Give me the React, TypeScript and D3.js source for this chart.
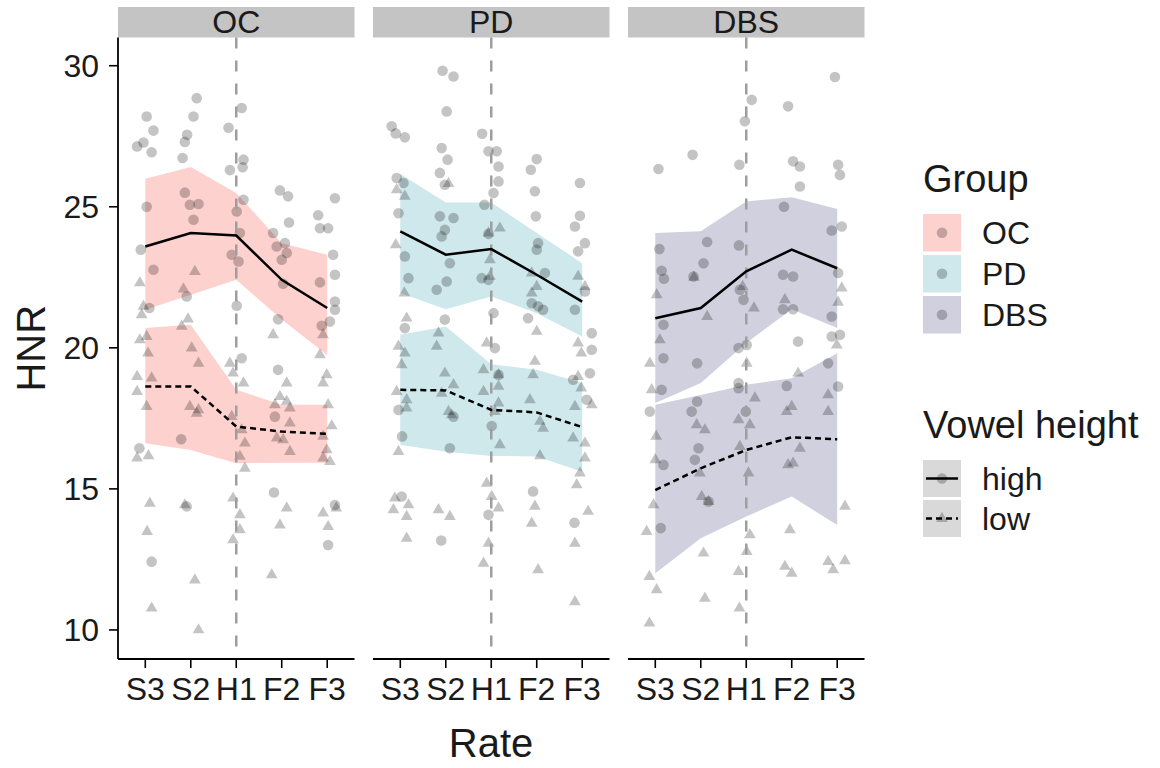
import React from "react";
import * as d3 from "d3";

// ---------- data ----------
const rates = ["S3", "S2", "H1", "F2", "F3"];
const groups = ["OC", "PD", "DBS"];
const groupFills = ["#FCD1CE", "#CEE8EC", "#D0D0DE"];
const vowels = ["high", "low"];
const yTicks = [10, 15, 20, 25, 30];

const ocHighMean = [23.59, 24.07, 23.98, 22.41, 21.41];
const ocHighUpper = [25.99, 26.41, 25.49, 23.71, 23.3];
const ocHighLower = [21.35, 21.88, 22.41, 21.0, 19.75];
const ocLowMean = [18.63, 18.63, 17.21, 17.03, 16.95];
const ocLowUpper = [20.7, 20.82, 18.51, 17.98, 17.98];
const ocLowLower = [16.62, 16.38, 15.91, 15.93, 15.93];

const pdHighMean = [24.13, 23.3, 23.5, 22.59, 21.64];
const pdHighUpper = [26.16, 25.15, 25.15, 24.07, 23.0];
const pdHighLower = [21.94, 21.37, 21.82, 21.23, 20.4];
const pdLowMean = [18.51, 18.49, 17.8, 17.71, 17.19];
const pdLowUpper = [20.46, 20.76, 19.42, 19.22, 18.75];
const pdLowLower = [16.56, 16.32, 16.17, 16.15, 15.61];

const dbsHighMean = [21.05, 21.41, 22.71, 23.48, 22.82];
const dbsHighUpper = [24.07, 24.13, 25.19, 25.34, 24.92];
const dbsHighLower = [18.04, 18.75, 20.17, 21.37, 20.7];
const dbsLowMean = [14.96, 15.73, 16.38, 16.83, 16.76];
const dbsLowUpper = [17.98, 18.33, 18.69, 18.92, 19.81];
const dbsLowLower = [12.01, 13.25, 14.02, 14.73, 13.72];

// jittered rate position (1..5) and HNR
const ocHighPoints: [number, number][] = [
  [2.13, 28.85], [1.03, 28.2], [2.06, 28.2], [1.18, 27.7], [2.83, 27.8], [3.12, 28.5],
  [1.92, 27.55], [1.87, 27.3], [0.96, 27.28], [0.82, 27.14], [1.14, 26.93], [1.82, 26.73],
  [3.16, 26.67], [3.14, 26.4], [2.86, 26.3], [3.96, 25.58], [4.14, 25.37], [5.17, 25.3],
  [4.8, 24.7], [4.84, 24.24], [5.02, 24.24], [4.16, 24.44], [3.81, 24.07], [4.07, 23.71],
  [3.89, 23.59], [4.11, 23.36], [4.0, 23.12], [1.87, 25.5], [1.98, 25.07], [2.17, 25.1],
  [2.06, 24.54], [1.03, 25.0], [3.16, 25.25], [3.01, 24.83], [3.08, 24.07], [2.9, 23.3],
  [3.05, 23.06], [0.9, 23.48], [1.18, 22.77], [5.13, 23.3], [5.17, 22.59], [4.84, 22.32],
  [5.17, 21.64], [5.17, 21.35], [5.06, 20.93], [4.88, 20.78], [3.92, 21.01], [3.01, 21.49],
  [4.03, 22.27], [3.12, 19.63], [1.91, 21.82], [1.09, 21.41], [3.92, 19.22], [3.85, 17.56],
  [1.79, 16.76], [0.87, 16.44], [1.91, 14.38], [3.83, 14.87], [5.17, 14.43], [5.02, 13.01],
  [1.14, 12.42],
];
const ocLowPoints: [number, number][] = [
  [2.09, 22.7], [0.88, 22.3], [1.84, 22.08], [0.96, 21.47], [0.92, 21.17], [1.94, 21.02],
  [1.8, 20.76], [1.03, 20.4], [0.88, 20.28], [3.81, 20.46], [4.91, 20.46], [1.06, 19.81],
  [2.02, 19.99], [2.17, 19.45], [2.86, 19.45], [4.84, 19.75], [2.93, 19.1], [0.82, 18.98],
  [1.14, 18.93], [0.82, 18.45], [1.03, 17.92], [3.16, 18.75], [4.11, 18.75], [3.96, 18.27],
  [4.11, 18.1], [3.85, 17.98], [4.18, 17.86], [4.18, 17.33], [3.89, 16.8], [4.03, 16.74],
  [4.18, 16.32], [1.98, 17.92], [2.17, 17.8], [2.13, 17.68], [2.9, 17.56], [3.12, 17.09],
  [3.19, 16.62], [3.08, 16.15], [3.19, 15.73], [0.82, 16.09], [1.07, 16.17], [4.99, 19.04],
  [4.91, 18.75], [5.02, 17.98], [5.1, 17.23], [4.91, 16.86], [4.99, 16.38], [4.91, 16.09],
  [5.06, 15.97], [1.1, 14.49], [1.87, 14.43], [2.93, 14.67], [3.08, 14.08], [3.08, 13.55],
  [2.93, 13.19], [4.11, 14.32], [3.96, 13.72], [3.78, 11.95], [4.91, 14.14], [5.2, 14.32],
  [5.02, 13.66], [1.04, 13.49], [2.09, 11.77], [1.14, 10.77], [2.17, 10.0],
];
const pdHighPoints: [number, number][] = [
  [1.93, 29.82], [2.17, 29.62], [2.02, 28.38], [0.81, 27.85], [0.9, 27.6], [1.1, 27.46],
  [1.91, 27.08], [2.04, 26.67], [1.87, 26.2], [1.98, 25.78], [2.8, 27.59], [2.94, 26.97],
  [3.12, 26.97], [3.16, 26.43], [3.16, 25.9], [3.05, 25.49], [4.0, 26.69], [3.87, 26.31],
  [3.96, 25.55], [3.98, 24.66], [4.95, 25.84], [4.95, 24.68], [4.84, 24.3], [5.06, 23.71],
  [4.91, 23.42], [0.92, 26.02], [1.07, 25.84], [0.96, 24.77], [1.1, 23.24], [1.18, 22.47],
  [1.87, 24.66], [2.17, 24.6], [1.98, 24.18], [1.91, 23.95], [2.09, 23.0], [2.02, 22.35],
  [1.8, 22.06], [2.85, 25.07], [2.94, 24.04], [2.79, 22.47], [2.94, 22.41], [3.05, 21.23],
  [4.03, 23.71], [4.0, 23.48], [4.18, 22.65], [3.89, 21.58], [4.03, 21.47], [4.14, 21.35],
  [3.81, 21.05], [5.06, 22.0], [4.84, 21.35], [1.98, 21.0], [1.1, 20.7], [3.08, 19.99],
  [5.21, 20.52], [5.21, 19.93], [3.16, 19.04], [5.17, 19.1], [4.8, 18.87], [5.1, 18.16],
  [0.96, 17.8], [2.17, 17.56], [3.01, 17.23], [1.04, 16.86], [2.09, 16.44], [1.03, 14.73],
  [2.94, 14.08], [3.92, 14.91], [4.83, 13.8], [1.9, 13.17],
];
const pdLowPoints: [number, number][] = [
  [0.92, 25.6], [1.1, 25.37], [2.06, 25.82], [0.9, 23.65], [1.09, 21.94], [3.19, 24.24],
  [2.94, 24.07], [2.97, 23.12], [2.97, 22.53], [3.89, 22.65], [4.0, 22.17], [3.89, 21.94],
  [4.91, 22.53], [5.06, 22.17], [4.0, 20.58], [1.14, 21.05], [1.84, 20.52], [1.8, 20.05],
  [2.9, 20.17], [0.96, 20.05], [1.1, 19.81], [4.91, 20.17], [4.98, 19.81], [3.96, 19.52],
  [1.03, 19.4], [1.98, 19.1], [2.17, 18.69], [2.83, 19.22], [3.16, 19.04], [3.92, 19.04],
  [4.91, 18.98], [0.92, 18.45], [1.14, 18.16], [1.14, 17.86], [1.91, 18.39], [2.06, 17.74],
  [2.13, 17.62], [2.83, 18.45], [3.16, 18.63], [3.16, 18.04], [3.08, 17.74], [3.85, 18.16],
  [4.07, 17.39], [4.14, 17.15], [4.98, 18.57], [4.84, 17.92], [5.21, 17.98], [4.8, 16.8],
  [5.06, 16.62], [5.06, 16.09], [4.95, 15.56], [4.88, 15.14], [0.96, 16.32], [3.19, 16.56],
  [4.07, 16.17], [2.9, 15.2], [0.88, 14.67], [1.18, 14.43], [0.85, 14.26], [1.14, 14.02],
  [1.84, 14.26], [2.09, 14.02], [3.01, 14.73], [3.16, 14.32], [3.96, 14.38], [3.89, 13.78],
  [5.13, 14.2], [1.14, 13.25], [2.94, 13.07], [2.83, 12.36], [4.84, 13.07], [4.03, 12.13],
  [4.84, 11.0],
];
const dbsHighPoints: [number, number][] = [
  [3.12, 28.79], [3.92, 28.56], [2.97, 28.03], [4.95, 29.6], [1.82, 26.84], [1.07, 26.34],
  [2.85, 26.49], [4.03, 26.61], [4.18, 26.43], [5.02, 26.49], [5.06, 26.13], [4.18, 25.72],
  [3.83, 25.0], [4.88, 24.16], [5.1, 24.3], [1.09, 23.5], [2.14, 23.75], [2.84, 23.63],
  [2.06, 23.0], [1.14, 22.73], [1.19, 22.45], [1.84, 22.53], [2.86, 22.06], [2.94, 21.7],
  [3.81, 22.59], [4.03, 22.53], [3.81, 21.37], [4.03, 21.37], [5.02, 22.65], [4.88, 21.11],
  [5.06, 20.46], [4.88, 20.4], [1.18, 20.82], [1.18, 19.63], [1.92, 19.45], [2.83, 19.99],
  [3.01, 20.1], [4.14, 20.22], [4.8, 19.45], [1.14, 18.51], [0.88, 17.74], [2.83, 18.75],
  [2.83, 18.57], [1.92, 18.1], [1.8, 17.74], [2.99, 17.74], [3.89, 18.65], [5.02, 18.63],
  [1.95, 16.44], [1.87, 16.03], [1.18, 15.85], [1.12, 13.61], [2.17, 14.55],
];
const dbsLowPoints: [number, number][] = [
  [1.03, 21.88], [1.85, 22.5], [2.14, 21.11], [2.92, 22.17], [3.17, 21.41], [3.85, 21.7],
  [5.1, 22.12], [5.02, 21.61], [4.99, 20.1], [1.1, 20.28], [0.88, 19.45], [3.01, 19.45],
  [0.92, 18.51], [1.02, 16.86], [1.0, 16.03], [0.96, 14.43], [0.81, 13.49], [0.87, 11.89],
  [1.03, 11.42], [0.87, 10.24], [1.91, 17.27], [2.09, 17.09], [1.98, 15.56], [2.02, 14.73],
  [2.17, 14.55], [2.06, 12.72], [2.09, 11.12], [2.83, 17.45], [3.08, 17.27], [3.19, 18.22],
  [2.86, 16.5], [3.05, 15.56], [3.08, 13.37], [3.01, 12.78], [2.83, 12.07], [2.85, 10.77],
  [4.14, 19.1], [4.0, 17.92], [3.89, 17.74], [4.18, 16.44], [3.92, 15.85], [4.03, 15.91],
  [3.96, 13.55], [3.85, 12.25], [4.0, 12.01], [4.8, 18.33], [4.8, 17.74], [5.17, 14.38],
  [4.8, 12.42], [4.91, 12.13], [5.17, 12.45],
];

const panelData = [
  {
    high: { mean: ocHighMean, upper: ocHighUpper, lower: ocHighLower, pts: ocHighPoints },
    low: { mean: ocLowMean, upper: ocLowUpper, lower: ocLowLower, pts: ocLowPoints },
  },
  {
    high: { mean: pdHighMean, upper: pdHighUpper, lower: pdHighLower, pts: pdHighPoints },
    low: { mean: pdLowMean, upper: pdLowUpper, lower: pdLowLower, pts: pdLowPoints },
  },
  {
    high: { mean: dbsHighMean, upper: dbsHighUpper, lower: dbsHighLower, pts: dbsHighPoints },
    low: { mean: dbsLowMean, upper: dbsLowUpper, lower: dbsLowLower, pts: dbsLowPoints },
  },
];

// ---------- layout ----------
const W = 1160;
const H = 768;
const panelLefts = [118, 373, 628];
const panelW = 236.5;
const panelTop = 37.5;
const panelBottom = 659;
const FONT = "'Liberation Sans', Arial, Helvetica, sans-serif";
const TEXT = "#1a1a1a";
const PT_FILL = "#000000";
const PT_OP = 0.23;
const PT_R = 5.3;

const y = d3.scaleLinear().domain([8.97, 31.0]).range([panelBottom, panelTop]);
const triPath = d3.symbol(d3.symbolTriangle, 60)() as string;

export default function App() {
  return (
    <svg
      width={W}
      height={H}
      style={{ position: "absolute", left: 0, top: 0, background: "#fff" }}
      fontFamily={FONT}
    >
      <rect x={0} y={0} width={W} height={H} fill="#fff" />
      {groups.map((g, gi) => {
        const left = panelLefts[gi];
        const x = d3.scaleLinear().domain([0.4, 5.6]).range([left, left + panelW]);
        const area = d3.area<number>().x((_, i) => x(i + 1));
        const line = d3
          .line<number>()
          .x((_, i) => x(i + 1))
          .y((d) => y(d));
        const pd = panelData[gi];
        const ribbon = (s: { upper: number[]; lower: number[] }) =>
          area.y0((_, i) => y(s.lower[i])).y1((_, i) => y(s.upper[i]))(s.upper) as string;
        return (
          <g key={g}>
            {/* strip */}
            <rect x={left} y={7} width={panelW} height={panelTop - 7} fill="#C4C4C4" />
            <text x={left + panelW / 2} y={33} textAnchor="middle" fontSize={32} fill={TEXT}>
              {g}
            </text>
            {/* ribbons */}
            <path d={ribbon(pd.high)} fill={groupFills[gi]} />
            <path d={ribbon(pd.low)} fill={groupFills[gi]} />
            {/* points */}
            {pd.high.pts.map((p, i) => (
              <circle key={"h" + i} cx={x(p[0])} cy={y(p[1])} r={PT_R} fill={PT_FILL} fillOpacity={PT_OP} />
            ))}
            {pd.low.pts.map((p, i) => (
              <path
                key={"l" + i}
                d={triPath}
                transform={`translate(${x(p[0])},${y(p[1])})`}
                fill={PT_FILL}
                fillOpacity={PT_OP}
              />
            ))}
            {/* reference line at H1 */}
            <line
              x1={x(3)}
              x2={x(3)}
              y1={panelTop}
              y2={panelBottom}
              stroke="#9E9E9E"
              strokeWidth={2.5}
              strokeDasharray="11,12"
            />
            {/* mean lines */}
            <path d={line(pd.high.mean) as string} fill="none" stroke="#000" strokeWidth={2.5} />
            <path
              d={line(pd.low.mean) as string}
              fill="none"
              stroke="#000"
              strokeWidth={2.5}
              strokeDasharray="6,4"
            />
            {/* x axis */}
            <line x1={left} x2={left + panelW} y1={panelBottom} y2={panelBottom} stroke="#000" strokeWidth={1.8} />
            {rates.map((r, ri) => (
              <g key={r}>
                <line x1={x(ri + 1)} x2={x(ri + 1)} y1={panelBottom} y2={panelBottom + 9} stroke="#000" strokeWidth={1.6} />
                <text x={x(ri + 1)} y={700} textAnchor="middle" fontSize={32} fill={TEXT}>
                  {r}
                </text>
              </g>
            ))}
          </g>
        );
      })}

      {/* y axis */}
      <line x1={118} x2={118} y1={panelTop} y2={panelBottom} stroke="#000" strokeWidth={1.8} />
      {yTicks.map((t) => (
        <g key={t}>
          <line x1={109} x2={118} y1={y(t)} y2={y(t)} stroke="#000" strokeWidth={1.6} />
          <text x={99} y={y(t)} dy="0.36em" textAnchor="end" fontSize={32} fill={TEXT}>
            {t}
          </text>
        </g>
      ))}

      {/* axis titles */}
      <text x={491} y={757} textAnchor="middle" fontSize={40} fill={TEXT}>
        Rate
      </text>
      <text
        transform={`translate(45, ${(panelTop + panelBottom) / 2}) rotate(-90)`}
        textAnchor="middle"
        fontSize={40}
        fill={TEXT}
      >
        HNR
      </text>

      {/* legend: Group */}
      <text x={923} y={192} fontSize={38} fill={TEXT}>
        Group
      </text>
      {groups.map((g, gi) => {
        const ky = 214 + gi * 41;
        return (
          <g key={"lg" + g}>
            <rect x={923} y={ky} width={38} height={37.5} fill={groupFills[gi]} />
            <circle cx={942} cy={ky + 18.75} r={PT_R} fill={PT_FILL} fillOpacity={PT_OP} />
            <text x={982} y={ky + 18.75} dy="0.36em" fontSize={32} fill={TEXT}>
              {g}
            </text>
          </g>
        );
      })}

      {/* legend: Vowel height */}
      <text x={923} y={438} fontSize={38} fill={TEXT}>
        Vowel height
      </text>
      {vowels.map((v, vi) => {
        const ky = 460 + vi * 40;
        return (
          <g key={"lv" + v}>
            <rect x={923} y={ky} width={38} height={37} fill="#D9D9D9" />
            {vi === 0 ? (
              <circle cx={942} cy={ky + 18.5} r={PT_R} fill={PT_FILL} fillOpacity={PT_OP} />
            ) : (
              <path d={triPath} transform={`translate(942,${ky + 18.5})`} fill={PT_FILL} fillOpacity={PT_OP} />
            )}
            <line
              x1={926}
              x2={958}
              y1={ky + 18.5}
              y2={ky + 18.5}
              stroke="#000"
              strokeWidth={2.5}
              strokeDasharray={vi === 0 ? undefined : "6,4"}
            />
            <text x={982} y={ky + 18.5} dy="0.36em" fontSize={32} fill={TEXT}>
              {v}
            </text>
          </g>
        );
      })}
    </svg>
  );
}
